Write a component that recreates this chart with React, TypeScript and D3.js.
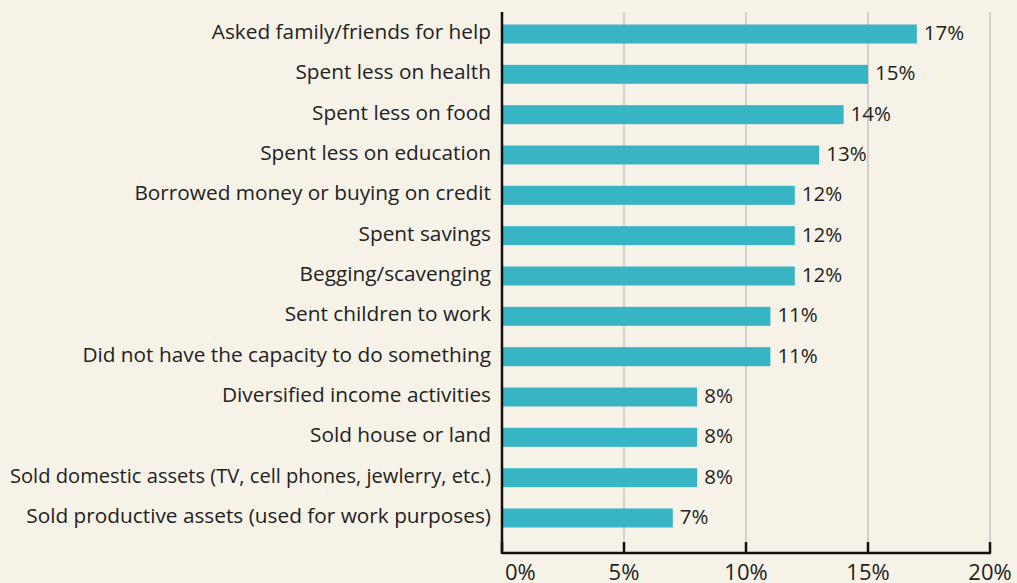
import React, { useEffect, useRef } from "react";
import * as d3 from "d3";

const categories = [
  "Asked family/friends for help",
  "Spent less on health",
  "Spent less on food",
  "Spent less on education",
  "Borrowed money or buying on credit",
  "Spent savings",
  "Begging/scavenging",
  "Sent children to work",
  "Did not have the capacity to do something",
  "Diversified income activities",
  "Sold house or land",
  "Sold domestic assets (TV, cell phones, jewlerry, etc.)",
  "Sold productive assets (used for work purposes)",
];
const values = [17, 15, 14, 13, 12, 12, 12, 11, 11, 8, 8, 8, 7];
const ticks = [0, 5, 10, 15, 20];

const W = 1017;
const H = 583;
const left = 502;
const right = 990;
const top = 12;
const axisY = 553;
const maxLabel = 481;
const font = "'Open Sans', 'Noto Sans', sans-serif";

export default function App() {
  const svgRef = useRef<SVGSVGElement>(null);
  const x = d3.scaleLinear().domain([0, 20]).range([left, right]);
  const y = d3
    .scaleBand<string>()
    .domain(categories)
    .range([top, 540])
    .paddingInner(0.529)
    .paddingOuter(0.31);
  const bw = y.bandwidth();

  useEffect(() => {
    // squeeze any label that would run past the left edge
    d3.select(svgRef.current)
      .selectAll<SVGTextElement, unknown>("text.cat")
      .each(function () {
        if (this.getComputedTextLength() > maxLabel) {
          d3.select(this).attr("textLength", maxLabel).attr("lengthAdjust", "spacingAndGlyphs");
        }
      });
  }, []);

  return (
    <svg
      ref={svgRef}
      width={W}
      height={H}
      style={{ position: "absolute", left: 0, top: 0, background: "#f6f2e7" }}
    >
      <rect x={0} y={0} width={W} height={H} fill="#f6f2e7" />
      {/* gridlines */}
      {ticks.slice(1).map((t) => (
        <line key={"g" + t} x1={x(t)} x2={x(t)} y1={top} y2={axisY} stroke="#d3d1cc" strokeWidth={2} />
      ))}
      {/* bars */}
      {categories.map((c, i) => (
        <g key={c}>
          <rect x={x(0)} y={y(c)} width={x(values[i]) - x(0)} height={bw} fill="#38b5c5" />
          <text
            x={x(values[i]) + 7}
            y={(y(c) as number) + bw / 2 + 6}
            fontFamily={font}
            fontSize={20.5}
            fill="#222"
          >
            {values[i]}%
          </text>
          <text
            className="cat"
            x={left - 11}
            y={(y(c) as number) + bw / 2 + 5}
            textAnchor="end"
            fontFamily={font}
            fontSize={20.8}
            fill="#222"
          >
            {c}
          </text>
        </g>
      ))}
      {/* axes */}
      <line x1={left} x2={left} y1={top} y2={axisY + 1} stroke="#111" strokeWidth={2.5} />
      <line x1={left} x2={right + 1} y1={axisY} y2={axisY} stroke="#111" strokeWidth={2.5} />
      {ticks.map((t, i) => (
        <g key={"t" + t}>
          <line x1={x(t)} x2={x(t)} y1={axisY - 11} y2={axisY} stroke="#111" strokeWidth={2.5} />
          <text
            x={i === 0 ? x(t) + 3 : x(t)}
            y={580}
            textAnchor={i === 0 ? "start" : "middle"}
            fontFamily={font}
            fontSize={22}
            fill="#222"
          >
            {t}%
          </text>
        </g>
      ))}
    </svg>
  );
}
